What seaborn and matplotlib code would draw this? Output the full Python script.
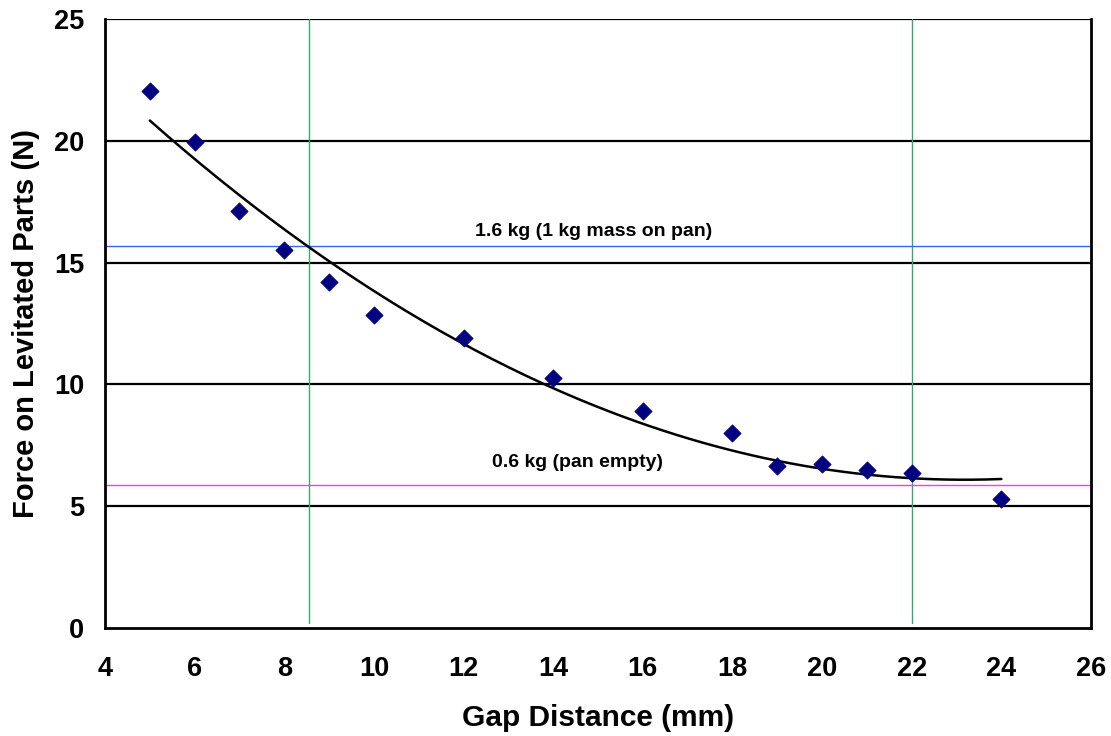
import numpy as np
import pandas as pd
import matplotlib
matplotlib.use("Agg")
import matplotlib.pyplot as plt
import seaborn as sns

gap_mm = [5, 6, 7, 8, 9, 10, 12, 14, 16, 18, 19, 20, 21, 22, 24]
force_n = [22.05, 19.95, 17.1, 15.5, 14.2, 12.85, 11.9, 10.25, 8.9, 8.0, 6.65, 6.75, 6.5, 6.35, 5.3]

ref_values = [15.7, 5.89]
ref_labels = ["1.6 kg (1 kg mass on pan)", "0.6 kg (pan empty)"]
ref_label_x = [14.9, 14.55]
ref_label_y = [16.1, 6.62]
ref_colors = ["#3366FF", "#FF33FF"]
vlines_x = [8.55, 22.0]

x_ticks = list(range(4, 27, 2))
y_ticks = [0, 5, 10, 15, 20, 25]

sns.set_style("white")
plt.rcParams['font.family'] = ['Liberation Sans', 'DejaVu Sans']
plt.rcParams['font.weight'] = 'bold'
plt.rcParams['text.color'] = 'black'
plt.rcParams['axes.labelcolor'] = 'black'
plt.rcParams['xtick.color'] = 'black'
plt.rcParams['ytick.color'] = 'black'

df = pd.DataFrame({"gap": gap_mm, "force": force_n})

fig = plt.figure(figsize=(11.11, 7.36), dpi=100)
ax = fig.add_axes([0.0945, 0.1467, 0.8875, 0.8275])

for y in y_ticks[1:]:
    ax.axhline(y, color="black", lw=1.6, zorder=1)

for x in vlines_x:
    ax.axvline(x, ymin=0.008, ymax=1, color="#33AA66", lw=1.0, zorder=2)

for v, c in zip(ref_values, ref_colors):
    ax.axhline(v, color=c, lw=1.0, zorder=2)

for lab, lx, ly in zip(ref_labels, ref_label_x, ref_label_y):
    ax.text(lx, ly, lab, ha="center", va="baseline", fontsize=14,
            fontweight="bold", color="black")

coef = np.polyfit(gap_mm, force_n, 2)
xs = np.linspace(min(gap_mm), max(gap_mm), 200)
fit_df = pd.DataFrame({"gap": xs, "force": np.polyval(coef, xs)})
sns.lineplot(data=fit_df, x="gap", y="force", ax=ax, color="black", lw=1.8, zorder=3)

sns.scatterplot(data=df, x="gap", y="force", ax=ax, marker="D", s=75,
                color="#000080", edgecolor="#000080", zorder=4)

ax.set_xlim(4, 26)
ax.set_ylim(0, 25)
ax.set_xticks(x_ticks)
ax.set_yticks(y_ticks)
ax.tick_params(axis="both", direction="out", length=6, width=2, labelsize=19.5)
ax.tick_params(axis="x", pad=14)
ax.tick_params(axis="y", pad=9)
for lab in ax.get_xticklabels() + ax.get_yticklabels():
    lab.set_fontweight("bold")
for side in ["left", "bottom", "right"]:
    ax.spines[side].set_linewidth(2)
    ax.spines[side].set_color("black")
ax.spines["top"].set_visible(False)

ax.set_xlabel("Gap Distance (mm)", fontsize=21.5, fontweight="bold", labelpad=16)
ax.set_ylabel("Force on Levitated Parts (N)", fontsize=21, fontweight="bold", labelpad=10)

fig.savefig("out.png", dpi=100)
